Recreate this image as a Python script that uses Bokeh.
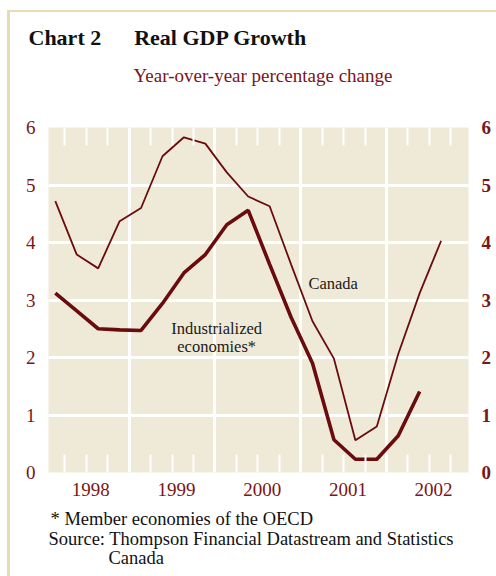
from bokeh.plotting import figure
from bokeh.models import (FixedTicker, LinearAxis, Label, Title, InlineStyleSheet,
                          CustomJSTickFormatter, ColumnDataSource)
from bokeh.embed import file_html
from bokeh.resources import INLINE

# ---- data ----
canada_quarters = ["1998Q1", "1998Q2", "1998Q3", "1998Q4",
                   "1999Q1", "1999Q2", "1999Q3", "1999Q4",
                   "2000Q1", "2000Q2", "2000Q3", "2000Q4",
                   "2001Q1", "2001Q2", "2001Q3", "2001Q4",
                   "2002Q1", "2002Q2", "2002Q3"]
canada_growth = [4.72, 3.79, 3.55, 4.37,
                 4.60, 5.50, 5.83, 5.72,
                 5.22, 4.80, 4.63, 3.62,
                 2.63, 1.98, 0.56, 0.80,
                 2.06, 3.12, 4.03]

industrial_quarters = canada_quarters[:18]
industrial_growth = [3.12, 2.81, 2.50, 2.48,
                     2.47, 2.94, 3.47, 3.79,
                     4.31, 4.56, 3.62, 2.70,
                     1.90, 0.57, 0.23, 0.23,
                     0.64, 1.41]

years = [1998, 1999, 2000, 2001, 2002]
y_ticks = [0, 1, 2, 3, 4, 5, 6]

title_num = "Chart 2"
title_text = "Real GDP Growth"
subtitle = "Year-over-year percentage change"
note_lines = ["* Member economies of the OECD",
              "Source: Thompson Financial Datastream and Statistics",
              "Canada"]


def qpos(label):
    yr, q = label.split("Q")
    return int(yr) + (int(q) - 0.45) / 4.0


BG = "#efe9d7"
RED = "#7a1519"
LINE = "#6a0c0e"
FONT = "Liberation Serif"
BORDER = "#e6ddb6"

frame_css = InlineStyleSheet(css=f"""
:host {{ position: relative; }}
:host::after {{
  content: ""; position: absolute; left: 7px; top: 10px;
  width: 489px; height: 566px; box-sizing: border-box;
  border-left: 3px solid {BORDER}; border-top: 2px solid {BORDER};
  pointer-events: none; z-index: 10;
}}
""")

p = figure(width=496, height=576, x_range=(1998.058, 2002.957), y_range=(0, 6),
           output_backend="svg", toolbar_location=None,
           min_border_left=48, min_border_right=28,
           min_border_top=127, min_border_bottom=104,
           stylesheets=[frame_css])
p.title.visible = False
p.background_fill_color = BG
p.border_fill_color = "white"
p.outline_line_color = None

# grids
p.xgrid.ticker = FixedTicker(ticks=years[1:])
p.ygrid.ticker = FixedTicker(ticks=y_ticks[1:-1])
for g in (p.xgrid, p.ygrid):
    g.grid_line_color = "white"
    g.grid_line_width = 3

quarter_minor = [y + f for y in years for f in (0.25, 0.5, 0.75)]
xticker = FixedTicker(ticks=[y + 0.55 for y in years], minor_ticks=quarter_minor)
year_fmt = CustomJSTickFormatter(code="return Math.floor(tick).toFixed(0);")

# bottom axis
xa = p.xaxis[0]
xa.ticker = xticker
xa.formatter = year_fmt
top_ax = LinearAxis(ticker=xticker, formatter=CustomJSTickFormatter(code='return "";'))
p.add_layout(top_ax, "above")
for ax in (xa, top_ax):
    ax.axis_line_color = None
    ax.major_tick_line_color = None
    ax.minor_tick_in = 18
    ax.minor_tick_out = 0
    ax.minor_tick_line_color = "white"
    ax.minor_tick_line_width = 2
    ax.major_label_text_font = FONT
    ax.major_label_text_font_size = "19px"
    ax.major_label_text_color = RED
    ax.major_label_standoff = 4
top_ax.major_label_text_font_size = "1px"
top_ax.major_label_standoff = 0

# y axes
ya = p.yaxis[0]
ra = LinearAxis()
p.add_layout(ra, "right")
for ax in (ya, ra):
    ax.ticker = FixedTicker(ticks=y_ticks)
    ax.axis_line_color = None
    ax.major_tick_line_color = None
    ax.minor_tick_line_color = None
    ax.major_label_text_font = FONT
    ax.major_label_text_font_size = "19px"
    ax.major_label_text_color = RED
ya.major_label_standoff = 7
ra.major_label_standoff = 7
ra.major_label_text_font_style = "bold"

# lines
src_c = ColumnDataSource(dict(x=[qpos(q) for q in canada_quarters], y=canada_growth))
src_i = ColumnDataSource(dict(x=[qpos(q) for q in industrial_quarters], y=industrial_growth))
p.line("x", "y", source=src_c, line_color=LINE, line_width=1.8)
p.line("x", "y", source=src_i, line_color=LINE, line_width=3.6)

# in-plot labels
lab_kw = dict(text_font=FONT, text_font_size="16.5px", text_color="#1a1a1a",
              text_baseline="alphabetic")
p.add_layout(Label(x=2001.09, y=3.28, text="Canada", text_align="left", **lab_kw))
p.add_layout(Label(x=2000.02, y=2.50, text="Industrialized", text_align="center", **lab_kw))
p.add_layout(Label(x=2000.02, y=2.19, text="economies*", text_align="center", **lab_kw))


def ttl(text, size, color, offset, standoff, style="normal"):
    return Title(text=text, align="left", offset=offset, standoff=standoff,
                 text_font=FONT, text_font_size=size, text_color=color,
                 text_font_style=style, vertical_align="bottom")


# above: spacer, subtitle, heading (stacked outward from the frame)
p.add_layout(Title(text=" ", text_font_size="1px", standoff=33), "above")
p.add_layout(ttl(subtitle, "19px", RED, 85, 0), "above")
p.add_layout(ttl(title_num + "\u00a0" * 6 + title_text, "22px", "#111111", -20, 26, "bold"),
             "above")

# below: footnotes
p.add_layout(ttl(note_lines[0], "18.5px", "#111111", 2, 17), "below")
p.add_layout(ttl(note_lines[1], "18.5px", "#111111", 0, -22), "below")
p.add_layout(ttl(note_lines[2], "18.5px", "#111111", 60, 16), "below")

open("out.html", "w").write(file_html(p, INLINE))
